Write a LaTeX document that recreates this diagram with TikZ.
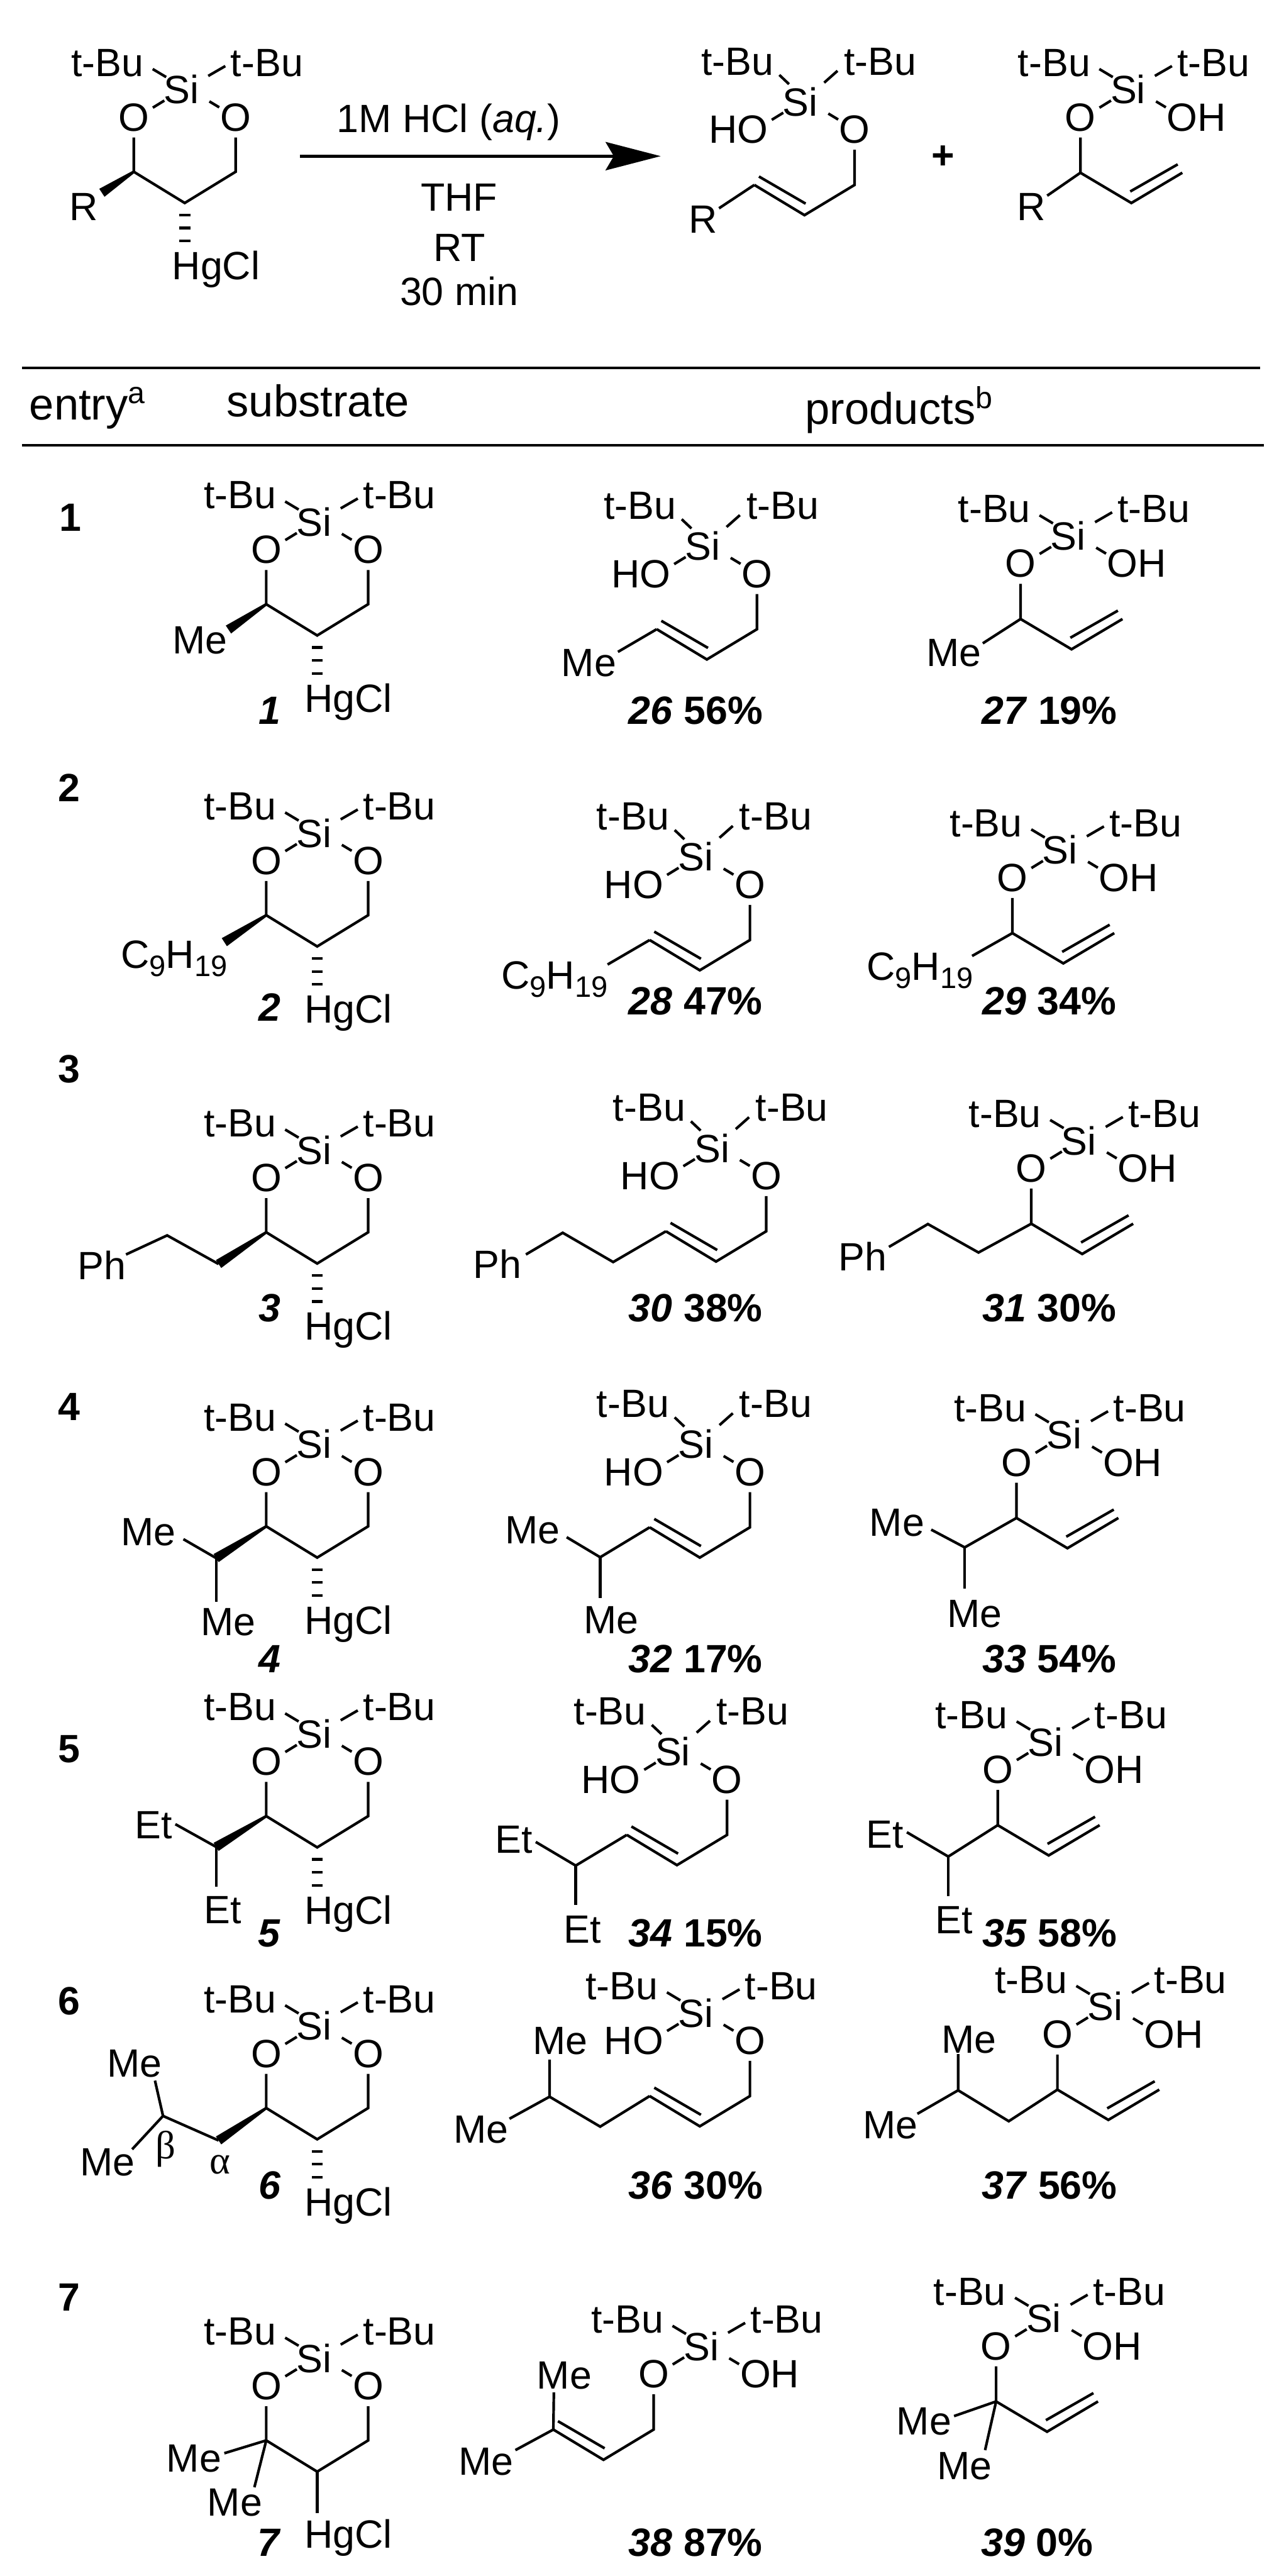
\documentclass[tikz,border=0pt]{standalone}
\usepackage{fontspec}
\setmainfont{Liberation Sans}
\newfontfamily\grkfont{Liberation Serif}
\usetikzlibrary{arrows.meta,calc}
\tikzset{
  atom/.style={inner sep=0pt,outer sep=0pt,text height=17.2pt,text depth=0pt,font=\fontsize{24}{28}\selectfont},
  lab/.style={inner sep=0pt,outer sep=0pt,text height=17.2pt,text depth=0pt,font=\fontsize{24}{28}\selectfont\bfseries},
  head/.style={inner sep=0pt,outer sep=0pt,anchor=base west,font=\fontsize{27}{32}\selectfont},
  bond/.style={line width=1.6pt,line join=miter},
  hashb/.style={line width=6.8pt,dash pattern=on 1.6pt off 6.3pt},
  rulel/.style={line width=1.6pt},
}
\newcommand{\HO}{\llap{H}O}
\newcommand{\OH}{O\rlap{H}}
\newcommand{\CN}{C\raisebox{-5pt}{\fontsize{18}{18}\selectfont 9}H\raisebox{-5pt}{\fontsize{18}{18}\selectfont 19}}
\newcommand{\siloxy}[3]{%
  \node[atom] (#1ol) at ([shift={(-29,16.6)}]#1si.center) {#2};
  \node[atom] (#1or) at ([shift={(33,16.6)}]#1si.center) {#3};
  \draw[bond] ([shift={(-10.4,6.7)}]#1si.center) -- ([shift={(11.6,-5.6)}]#1ol.center);
  \draw[bond] ([shift={(17,7.2)}]#1si.center) -- ([shift={(-10,-5.8)}]#1or.center);
}
\newcommand{\silR}[5]{%
  \node[atom] (#1si) at (#2,#3) {Si};
  \node[atom] (#1tl) at ([shift={(-45,-16.7)}]#1si.center) {t-Bu};
  \node[atom] (#1tr) at ([shift={(52,-16.7)}]#1si.center) {t-Bu};
  \draw[bond] ([shift={(-9.3,-7.6)}]#1si.center) -- ([shift={(27.5,4.2)}]#1tl.center);
  \draw[bond] ([shift={(16.3,-8.3)}]#1si.center) -- ([shift={(-25.3,2.4)}]#1tr.center);
  \siloxy{#1}{#4}{#5}
}
\newcommand{\silA}[5]{%
  \node[atom] (#1si) at (#2,#3) {Si};
  \node[atom] (#1tl) at ([shift={(-38.2,-24.9)}]#1si.center) {t-Bu};
  \node[atom] (#1tr) at ([shift={(48.6,-24.9)}]#1si.center) {t-Bu};
  \draw[bond] ([shift={(-6.9,-10.7)}]#1si.center) -- ([shift={(25.4,8.6)}]#1tl.center);
  \draw[bond] ([shift={(14.5,-11.6)}]#1si.center) -- ([shift={(-26,6.1)}]#1tr.center);
  \siloxy{#1}{#4}{#5}
}
\newcommand{\allyl}[2]{%
  \coordinate (#1a) at ([shift={(0,34)}]#2.center);
  \coordinate (#1b) at ([shift={(-30.5,52.4)}]#2.center);
  \coordinate (#1c) at ([shift={(-61,34)}]#2.center);
  \draw[bond,shorten <=4pt] (#2) -- (#1a) -- (#1b) -- (#1c);
  \draw[bond] ([shift={(2.8,-5.1)}]#1c) -- ([shift={(0.7,-7)}]#1b);
}
\newcommand{\vinyl}[2]{%
  \coordinate (#1a) at ([shift={(0,34)}]#2.center);
  \coordinate (#1b) at ([shift={(31,52.4)}]#2.center);
  \coordinate (#1c) at ([shift={(62,34)}]#2.center);
  \draw[bond,shorten <=4pt] (#2) -- (#1a) -- (#1b) -- (#1c);
  \draw[bond] ([shift={(-0.7,-7)}]#1b) -- ([shift={(-2.8,-5.1)}]#1c);
}
\newcommand{\subst}[3]{%
  \silR{#1}{#2}{#3}{O}{O}
  \coordinate (#1c1) at ([shift={(0,33.4)}]#1ol.center);
  \coordinate (#1c2) at ([shift={(2,69)}]#1si.center);
  \coordinate (#1c3) at ([shift={(0,33.4)}]#1or.center);
  \draw[bond,shorten <=4pt,shorten >=4pt] (#1ol) -- (#1c1) -- (#1c2) -- (#1c3) -- (#1or);
  \node[atom] (#1hg) at ([shift={(21,107)}]#1si.center) {HgCl};
}
\newcommand{\hashed}[1]{\draw[hashb] ([shift={(0,6.5)}]#1c2) -- ([shift={(-19,-14)}]#1hg.center);}
\newcommand{\wdg}[2]{\fill ($(#1)!0.8pt!90:(#2)$) -- ($(#1)!0.8pt!-90:(#2)$) -- ($(#2)!2.9pt!90:(#1)$) -- ($(#2)!2.9pt!-90:(#1)$) -- cycle;}
\begin{document}
\begin{tikzpicture}[x=1pt,y=-1pt]
\useasboundingbox (0,0) rectangle (778,1567.2);
\fill[white] (0,0) rectangle (778,1567.2);

% ---- scheme
\subst{a}{110.4}{54.5}\hashed{a}
\node[atom] (aR) at (51,125.6) {R};
\coordinate (aRe) at ([shift={(11,-8.3)}]aR.center);
\wdg{ac1}{aRe}
\coordinate (arrS) at (182.6,95);
\coordinate (arrE) at (402,95);
\draw[line width=1.7pt,-{Stealth[length=33.5pt,width=17.2pt,inset=5pt]}] (arrS) -- (arrE);
\node[atom] (cond1) at (273,72) {1M HCl (\textit{aq.})};
\node[atom] (cond2) at (279.4,119.7) {THF};
\node[atom] (cond3) at (279.4,150.5) {RT};
\node[atom] (cond4) at (279.4,177) {30 min};
\silA{b}{487}{61.9}{\HO}{O}
\allyl{b}{bor}
\node[atom] (bR) at (428,133) {R};
\draw[bond,shorten >=1pt] (bc) -- (bR);
\node[lab] (plus) at (574,94) {+};
\silR{d}{686.4}{54.5}{O}{\OH}
\vinyl{d}{dol}
\node[atom] (dR) at (627.7,125.6) {R};
\draw[bond,shorten >=1pt] (da) -- (dR);

% ---- header
\coordinate (r1a) at (13.4,223.9); \coordinate (r1b) at (766.6,223.9);
\coordinate (r2a) at (13.4,271); \coordinate (r2b) at (769,271);
\draw[rulel] (r1a) -- (r1b);
\draw[rulel] (r2a) -- (r2b);
\node[head] (hentry) at (17.9,255.3) {entry\raisebox{9.7pt}{\fontsize{18.5}{20}\selectfont a}};
\node[head] (hsub) at (138,253.4) {substrate};
\node[head] (hprod) at (490,258) {products\raisebox{9.6pt}{\fontsize{18.5}{20}\selectfont b}};

% ---- entry numbers
\node[lab] (n1) at (43,314.5) {1};
\node[lab] (n2) at (42.2,479) {2};
\node[lab] (n3) at (42.2,650) {3};
\node[lab] (n4) at (42.2,855.5) {4};
\node[lab] (n5) at (42.2,1063.7) {5};
\node[lab] (n6) at (42.2,1217.2) {6};
\node[lab] (n7) at (42.2,1397.2) {7};

% ---- substrates
\subst{s1}{191}{317.6}\hashed{s1}
\node[atom] (s1m) at (121.6,389.3) {Me};
\coordinate (s1e) at ([shift={(17.4,-6.3)}]s1m.center);
\wdg{s1c1}{s1e}
\node[lab] (l1) at (164,432) {\textit{1}};

\subst{s2}{191}{506.8}\hashed{s2}
\node[atom] (s2m) at (106,580.5) {\CN};
\coordinate (s2e) at ([shift={(30.5,-7.3)}]s2m.center);
\wdg{s2c1}{s2e}
\node[lab] (l2) at (164,612.7) {\textit{2}};

\subst{s3}{191}{699.7}\hashed{s3}
\coordinate (s3e) at (133,769);
\coordinate (s3f) at (101.7,751.6);
\node[atom] (s3p) at (62,770) {Ph};
\wdg{s3c1}{s3e}
\draw[bond] (s3e) -- (s3f) -- (s3p);
\node[lab] (l3) at (164,795.5) {\textit{3}};

\subst{s4}{191}{878.6}\hashed{s4}
\coordinate (s4e) at (131.5,947.9);
\node[atom] (s4m1) at (90.3,931.7) {Me};
\node[atom] (s4m2) at (139,986.2) {Me};
\wdg{s4c1}{s4e}
\draw[bond] (s4e) -- ([shift={(21.3,4.7)}]s4m1.center);
\draw[bond] (s4e) -- ([shift={(-7.5,-11.7)}]s4m2.center);
\node[lab] (l4) at (164,1008.8) {\textit{4}};

\subst{s5}{191}{1054.9}\hashed{s5}
\coordinate (s5e) at (131.5,1123.6);
\node[atom] (s5m1) at (93.3,1109.8) {Et};
\node[atom] (s5m2) at (135.5,1161.8) {Et};
\wdg{s5c1}{s5e}
\draw[bond] (s5e) -- ([shift={(13.4,0)}]s5m1.center);
\draw[bond] (s5e) -- ([shift={(-4,-13.8)}]s5m2.center);
\node[lab] (l5) at (164,1175.6) {\textit{5}};

\subst{s6}{191}{1232.5}\hashed{s6}
\coordinate (s6e) at (133,1302.2);
\coordinate (s6f) at (99.2,1287.3);
\node[atom] (s6m1) at (81.9,1255) {Me};
\node[atom] (s6m2) at (65.5,1314.9) {Me};
\wdg{s6c1}{s6e}
\draw[bond] (s6e) -- (s6f);
\draw[bond] (s6f) -- ([shift={(12.4,10.8)}]s6m1.center);
\draw[bond] (s6f) -- ([shift={(14.9,-7.3)}]s6m2.center);
\node[atom,font=\grkfont\fontsize{24}{28}\selectfont] (s6b) at (100.7,1304.9) {β};
\node[atom,font=\grkfont\fontsize{24}{28}\selectfont] (s6a) at (134,1314) {α};
\node[lab] (l6) at (164,1329.3) {\textit{6}};

\subst{s7}{191}{1434.7}
\node[atom] (s7m1) at (118,1495.1) {Me};
\node[atom] (s7m2) at (142.9,1522.2) {Me};
\draw[bond] (s7c1) -- ([shift={(18.5,-2.6)}]s7m1.center);
\draw[bond] (s7c1) -- ([shift={(11.9,-9)}]s7m2.center);
\draw[bond] (s7c2) -- ([shift={(-19,-12.6)}]s7hg.center);
\node[lab] (l7) at (164,1546.5) {\textit{7}};

% ---- products entry 1
\silA{p26}{427.6}{332.2}{\HO}{O}
\allyl{p26}{p26or}
\node[atom] (p26m) at (358.3,402.9) {Me};
\draw[bond] (p26c) -- ([shift={(17.7,-6.3)}]p26m.center);
\node[lab] (l26) at (423.3,431.9) {\textit{26} 56\%};
\silR{p27}{650}{326}{O}{\OH}
\vinyl{p27}{p27ol}
\node[atom] (p27m) at (580.5,396.6) {Me};
\draw[bond] (p27a) -- ([shift={(17.5,-5.2)}]p27m.center);
\node[lab] (l27) at (638.6,431.9) {\textit{27} 19\%};

% ---- entry 2
\silA{p28}{423.3}{521.3}{\HO}{O}
\allyl{p28}{p28or}
\node[atom] (p28m) at (337.4,593) {\CN};
\draw[bond] (p28c) -- ([shift={(32.3,-6.2)}]p28m.center);
\node[lab] (l28) at (423.3,608.6) {\textit{28} 47\%};
\silR{p29}{645}{517.1}{O}{\OH}
\vinyl{p29}{p29ol}
\node[atom] (p29m) at (559.7,587.8) {\CN};
\draw[bond] (p29a) -- ([shift={(31.8,-6.2)}]p29m.center);
\node[lab] (l29) at (638.6,608.6) {\textit{29} 34\%};

% ---- entry 3
\silA{p30}{433.2}{698.5}{\HO}{O}
\allyl{p30}{p30or}
\coordinate (p30d) at (373.1,767.8);
\coordinate (p30e) at (342.4,750);
\node[atom] (p30m) at (302.7,769) {Ph};
\draw[bond] (p30c) -- (p30d) -- (p30e) -- ([shift={(17.3,-5.8)}]p30m.center);
\node[lab] (l30) at (423.3,795.5) {\textit{30} 38\%};
\silR{p31}{656.5}{693.9}{O}{\OH}
\vinyl{p31}{p31ol}
\coordinate (p31d) at (595.4,762);
\coordinate (p31e) at (564.6,744.7);
\node[atom] (p31m) at (525,764.3) {Ph};
\draw[bond] (p31a) -- (p31d) -- (p31e) -- ([shift={(15.9,-5.7)}]p31m.center);
\node[lab] (l31) at (638.6,795.5) {\textit{31} 30\%};

% ---- entry 4
\silA{p32}{423.3}{878.6}{\HO}{O}
\allyl{p32}{p32or}
\coordinate (p32d) at (365.2,947.4);
\node[atom] (p32m1) at (324,930.6) {Me};
\node[atom] (p32m2) at (372,985.2) {Me};
\draw[bond] (p32c) -- (p32d) -- ([shift={(20.8,4.6)}]p32m1.center);
\draw[bond] (p32d) -- ([shift={(-6.8,-13)}]p32m2.center);
\node[lab] (l32) at (423.3,1008.8) {\textit{32} 17\%};
\silR{p33}{647.5}{872.9}{O}{\OH}
\vinyl{p33}{p33ol}
\coordinate (p33d) at (587,941.4);
\node[atom] (p33m1) at (545.8,926) {Me};
\node[atom] (p33m2) at (593,981.3) {Me};
\draw[bond] (p33a) -- (p33d) -- ([shift={(20.8,4.6)}]p33m1.center);
\draw[bond] (p33d) -- ([shift={(-6,-14.9)}]p33m2.center);
\node[lab] (l33) at (638.6,1008.8) {\textit{33} 54\%};

% ---- entry 5
\silA{p34}{409.4}{1065.7}{\HO}{O}
\allyl{p34}{p34or}
\coordinate (p34d) at (350.3,1135);
\node[atom] (p34m1) at (312.6,1118.7) {Et};
\node[atom] (p34m2) at (354.3,1173.6) {Et};
\draw[bond] (p34c) -- (p34d) -- ([shift={(13.4,1.9)}]p34m1.center);
\draw[bond] (p34d) -- ([shift={(-4,-14.7)}]p34m2.center);
\node[lab] (l34) at (423.3,1175.6) {\textit{34} 15\%};
\silR{p35}{636.1}{1059.8}{O}{\OH}
\vinyl{p35}{p35ol}
\coordinate (p35d) at (577,1129.5);
\node[atom] (p35m1) at (538.4,1115.7) {Et};
\node[atom] (p35m2) at (580.5,1167.7) {Et};
\draw[bond] (p35a) -- (p35d) -- ([shift={(13.4,-1)}]p35m1.center);
\draw[bond] (p35d) -- ([shift={(-3.5,-14.3)}]p35m2.center);
\node[lab] (l35) at (638.6,1175.6) {\textit{35} 58\%};

% ---- entry 6
\silR{p36}{423.3}{1224.6}{\HO}{O}
\allyl{p36}{p36or}
\coordinate (p36d) at (365.2,1293.8);
\coordinate (p36e) at (334.4,1275.6);
\node[atom] (p36m1) at (340.9,1241.3) {Me};
\node[atom] (p36m2) at (292.8,1295) {Me};
\draw[bond] (p36c) -- (p36d) -- (p36e) -- ([shift={(-6.5,11.7)}]p36m1.center);
\draw[bond] (p36e) -- ([shift={(17.2,-6)}]p36m2.center);
\node[lab] (l36) at (423.3,1329.3) {\textit{36} 30\%};
\silR{p37}{672.4}{1220.7}{O}{\OH}
\vinyl{p37}{p37ol}
\coordinate (p37d) at (613.8,1290.5);
\coordinate (p37e) at (583,1271.7);
\node[atom] (p37m1) at (589.5,1240.3) {Me};
\node[atom] (p37m2) at (541.8,1292.3) {Me};
\draw[bond] (p37a) -- (p37d) -- (p37e) -- ([shift={(-6.5,9.4)}]p37m1.center);
\draw[bond] (p37e) -- ([shift={(16.4,-6.3)}]p37m2.center);
\node[lab] (l37) at (638.6,1329.3) {\textit{37} 56\%};

% ---- entry 7
\silR{p38}{426.7}{1427.5}{O}{\OH}
\allyl{p38}{p38ol}
\node[atom] (p38m1) at (343.4,1444.7) {Me};
\node[atom] (p38m2) at (295.7,1497) {Me};
\draw[bond] (p38c) -- ([shift={(-6.4,10.8)}]p38m1.center);
\draw[bond] (p38c) -- ([shift={(17.9,-6.4)}]p38m2.center);
\node[lab] (l38) at (423.3,1546.5) {\textit{38} 87\%};
\silR{p39}{635.1}{1410.4}{O}{\OH}
\vinyl{p39}{p39ol}
\node[atom] (p39m1) at (562.2,1472.6) {Me};
\node[atom] (p39m2) at (587,1499.7) {Me};
\draw[bond] (p39a) -- ([shift={(18.3,-2.7)}]p39m1.center);
\draw[bond] (p39a) -- ([shift={(12.4,-9.1)}]p39m2.center);
\node[lab] (l39) at (631.2,1546.5) {\textit{39} 0\%};
\end{tikzpicture}
\end{document}
